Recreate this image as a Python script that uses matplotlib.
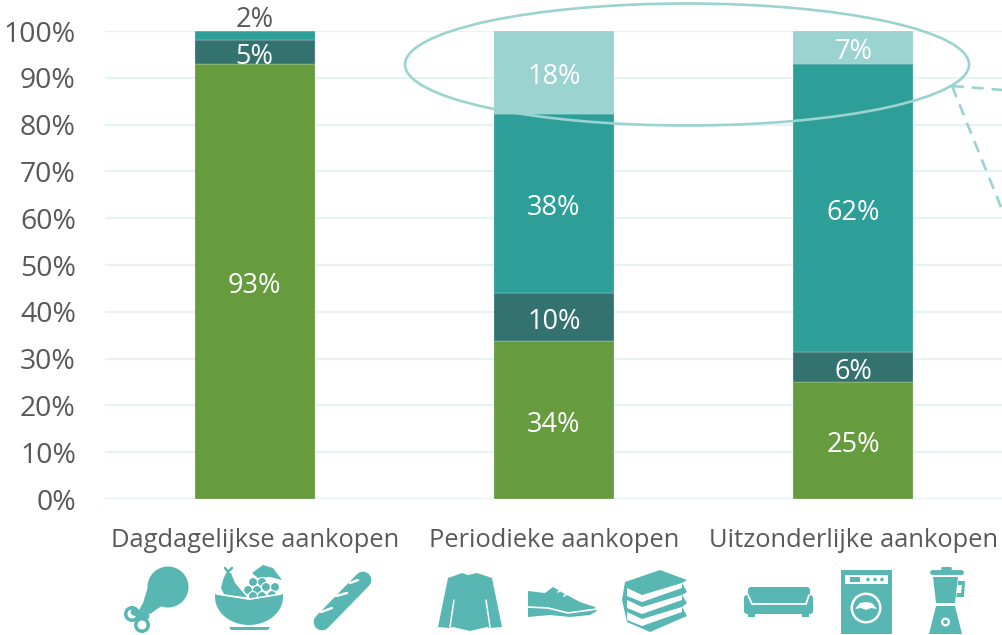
import numpy as np
import matplotlib
matplotlib.use('Agg')
import matplotlib.pyplot as plt
from matplotlib.patches import Circle, Ellipse, Polygon, FancyBboxPatch, Rectangle

plt.rcParams['font.family'] = ['Open Sans', 'DejaVu Sans']

categories = ['Dagdagelijkse aankopen', 'Periodieke aankopen', 'Uitzonderlijke aankopen']
yticks = [0, 10, 20, 30, 40, 50, 60, 70, 80, 90, 100]

# stacked segments, bottom to top
seg_green = [92.9, 33.8, 25.0]
seg_dark = [5.2, 10.2, 6.4]
seg_teal = [1.9, 38.3, 61.6]
seg_light = [0.0, 17.7, 7.0]

c_green = '#669C3E'
c_dark = '#33726F'
c_teal = '#2E9F98'
c_light = '#9BD3D0'
c_icon = '#58B7B2'
c_text = '#595959'
c_grid = '#E6F3F3'

fig = plt.figure(figsize=(10.03, 6.35), dpi=100)
ax = fig.add_axes([105 / 1003, 136 / 635, 898 / 1003, 468 / 635])

x = np.arange(len(categories))
bottom = np.zeros(len(categories))
for vals, col in zip([seg_green, seg_dark, seg_teal, seg_light], [c_green, c_dark, c_teal, c_light]):
    vals = np.array(vals)
    ax.bar(x, vals, 0.4, bottom=bottom, color=col, edgecolor='#D5ECEA', linewidth=0.2, zorder=3)
    for i in range(len(x)):
        if vals[i] == 0:
            continue
        if vals[i] < 3:
            # too thin, label goes above the bar
            ax.text(x[i], bottom[i] + vals[i] + 2.4, '%.0f%%' % vals[i], ha='center', va='center',
                    color=c_text, fontsize=19.5, zorder=5, clip_on=False)
        else:
            ax.text(x[i], bottom[i] + vals[i] / 2 - 1.0, '%.0f%%' % vals[i], ha='center', va='center',
                    color='white', fontsize=19.5, zorder=5)
    bottom = bottom + vals

ax.set_xlim(-0.5, 2.5)
ax.set_ylim(0, 100)
ax.set_yticks(yticks)
ax.set_yticklabels(['%d%%' % t for t in yticks], fontsize=20.4, color=c_text)
ax.set_xticks(x)
ax.set_xticklabels(categories, fontsize=18.4, color=c_text)
ax.tick_params(axis='both', length=0)
ax.tick_params(axis='y', pad=21)
ax.tick_params(axis='x', pad=21)
ax.grid(axis='y', color=c_grid, linewidth=1.6, zorder=0)
ax.set_axisbelow(True)
for s in ax.spines.values():
    s.set_visible(False)

# overlay in pixel coordinates for the callout and the icons
ov = fig.add_axes([0, 0, 1, 1], zorder=10)
ov.set_xlim(0, 1003)
ov.set_ylim(635, 0)
ov.axis('off')
ov.patch.set_alpha(0)

# callout
ov.add_patch(Ellipse((687, 64.5), 564, 122, fill=False, edgecolor=c_light, linewidth=1.9))
ov.plot([952, 1003], [86, 90], color=c_light, linewidth=1.9, linestyle=(0, (4.5, 3)))
ov.plot([952, 1003], [86, 212], color=c_light, linewidth=1.9, linestyle=(0, (4.5, 3)))


def poly(pts, col=c_icon):
    ov.add_patch(Polygon(pts, closed=True, facecolor=col, edgecolor='none'))


def disc(cx, cy, r, col=c_icon):
    ov.add_patch(Circle((cx, cy), r, facecolor=col, edgecolor='none'))


def line(xs, ys, lw, col='white', cap='round'):
    ov.plot(xs, ys, color=col, linewidth=lw, solid_capstyle=cap)


def rbox(x0, y0, w, h, r, col=c_icon):
    ov.add_patch(FancyBboxPatch((x0, y0), w, h, boxstyle='round,pad=0,rounding_size=%s' % r,
                                facecolor=col, edgecolor='none'))


# chicken leg
disc(168, 587, 20.5)
poly([(155, 573), (147, 590), (143, 603), (139, 610), (150, 614), (163, 605), (183, 598), (187, 590)])
disc(132, 614, 8)
disc(142, 625, 8)
line([134, 146], [612, 616], 5, c_icon)
disc(132, 614, 4.5, 'white')
disc(142, 625, 4.5, 'white')

# fruit bowl
poly([(226, 573), (231, 573), (235, 583), (247, 597), (225, 596), (221, 588), (223, 580)])
line([228, 225], [572, 568], 1.8, c_icon)
line([228, 232], [572, 568], 1.8, c_icon)
poly([(252, 573), (263, 565), (273, 568), (282, 580), (270, 577), (258, 578)])
for gx, gy in [(253, 582), (262, 582), (257, 590), (266, 587), (275, 587), (248, 590), (253, 596), (262, 596), (272, 595)]:
    disc(gx, gy, 4.5)
    ov.add_patch(Circle((gx, gy), 4.5, fill=False, edgecolor='white', linewidth=0.8))
t = np.linspace(0, np.pi, 30)
bowl = [(249 + 34 * np.cos(a), 597 + 28 * np.sin(a)) for a in t]
poly(bowl + [(215, 594), (250, 600), (283, 594)])
line([217, 250, 281], [594, 599, 594], 1.2)
poly([(229, 627), (270, 627), (268, 630), (231, 630)])

# baguette
line([322, 363], [622, 580], 12, c_icon)
line([321, 332], [612, 608], 1.8)
line([336, 347], [596, 593], 1.8)
line([350, 358], [583, 580], 1.8)

# sweater
poly([(438, 627), (448, 578), (462, 573), (468, 575), (477, 573), (492, 578), (502, 627),
      (490, 628), (487, 627), (470, 631), (453, 627), (449, 628)])
line([454, 450], [600, 627], 1.1)
line([486, 490], [600, 627], 1.1)

# shoe
poly([(528, 591), (545, 593), (553, 587), (563, 593), (580, 602), (595, 607), (597, 611),
      (590, 615), (570, 617), (550, 615), (528, 617)])
line([527, 548, 568, 597], [607, 608, 613, 609], 1.2)
line([558, 562], [592, 589], 1.2)
line([564, 568], [596, 593], 1.2)

# books
poly([(622, 600), (625, 582), (660, 570), (687, 580), (682, 583), (687, 592), (682, 595), (687, 603),
      (682, 607), (687, 616), (650, 632), (627, 622)])
for dy in [0, 12, 24]:
    poly([(627, 588 + dy), (642, 595 + dy), (682, 583 + dy), (682, 588 + dy), (642, 602 + dy), (627, 596 + dy)], 'white')

# sofa
rbox(748, 587, 62, 19, 3)
rbox(744, 595, 69, 19, 3)
line([748, 752, 806, 809], [595, 604, 604, 595], 1.3)
poly([(748, 613), (755, 613), (755, 617), (748, 617)])
poly([(802, 613), (809, 613), (809, 617), (802, 617)])

# washing machine
ov.add_patch(Rectangle((841, 570), 51, 64, facecolor=c_icon, edgecolor='none'))
ov.add_patch(Rectangle((845, 575), 43, 9, facecolor='white', edgecolor='none'))
ov.add_patch(Rectangle((850, 577), 10, 5, facecolor=c_icon, edgecolor='none'))
for bx in [868, 875, 882]:
    disc(bx, 579.5, 1.8)
disc(866, 608, 15.5, 'white')
disc(866, 608, 13)
poly([(855, 609), (860, 603), (866, 602), (872, 603), (877, 609), (871, 608), (866, 610), (861, 608)], 'white')

# blender
line([932, 961], [572, 572], 3.5, c_icon)
line([942, 950], [568, 568], 2.2, c_icon)
poly([(933, 577), (958, 577), (955, 603), (936, 603)])
poly([(958, 581), (965, 581), (964, 597), (956, 597), (957, 593), (961, 593), (962, 585), (958, 585)])
poly([(936, 606), (955, 606), (962, 634), (929, 634)])
disc(945.5, 622, 4.5, 'white')
disc(945.5, 622, 2.2)

fig.savefig('out.png', dpi=100)
